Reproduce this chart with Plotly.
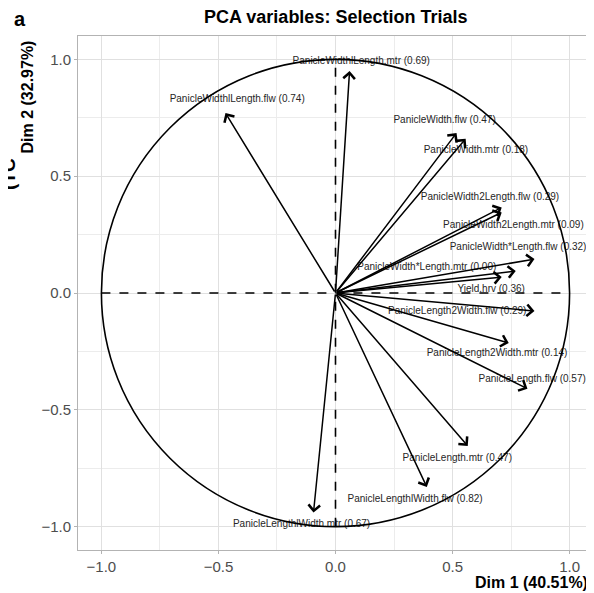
import plotly.graph_objects as go

# Variable names (with contribution in label)
labels = [
    "PanicleWidthlLength.mtr (0.69)",
    "PanicleWidthlLength.flw (0.74)",
    "PanicleWidth.flw (0.47)",
    "PanicleWidth.mtr (0.18)",
    "PanicleWidth2Length.flw (0.29)",
    "PanicleWidth2Length.mtr (0.09)",
    "PanicleWidth*Length.flw (0.32)",
    "PanicleWidth*Length.mtr (0.00)",
    "Yield.hrv (0.36)",
    "PanicleLength2Width.flw (0.29)",
    "PanicleLength2Width.mtr (0.14)",
    "PanicleLength.flw (0.57)",
    "PanicleLength.mtr (0.47)",
    "PanicleLengthlWidth.flw (0.82)",
    "PanicleLengthlWidth.mtr (0.67)",
]
# Arrow tip coordinates (Dim 1, Dim 2)
dim1 = [0.06, -0.47, 0.517, 0.556, 0.71, 0.71, 0.85, 0.77, 0.71, 0.85, 0.74, 0.82, 0.565, 0.39, -0.094]
dim2 = [0.95, 0.77, 0.685, 0.66, 0.366, 0.345, 0.145, 0.094, 0.068, -0.077, -0.214, -0.41, -0.655, -0.83, -0.94]
# Label anchor coordinates (repelled positions)
lab_x = [0.11, -0.42, 0.466, 0.60, 0.66, 0.76, 0.78, 0.39, 0.665, 0.52, 0.69, 0.84, 0.52, 0.34, -0.145]
lab_y = [0.99, 0.83, 0.74, 0.61, 0.41, 0.29, 0.195, 0.11, 0.017, -0.08, -0.26, -0.37, -0.71, -0.885, -0.99]

ref_span = [-1.0, 1.0]
ref_zero = [0.0, 0.0]
tick_vals = [-1.0, -0.5, 0.0, 0.5, 1.0]
minor_vals = [-0.75, -0.25, 0.25, 0.75]

FONT = "Liberation Sans, Arial"

fig = go.Figure()

# dashed reference lines
fig.add_trace(go.Scatter(x=ref_span, y=ref_zero, mode="lines",
                         line=dict(color="black", width=1.6, dash="dash"),
                         hoverinfo="skip", showlegend=False))
fig.add_trace(go.Scatter(x=ref_zero, y=ref_span, mode="lines",
                         line=dict(color="black", width=1.6, dash="dash"),
                         hoverinfo="skip", showlegend=False))

# labels
fig.add_trace(go.Scatter(x=lab_x, y=lab_y, mode="text", text=labels,
                         textfont=dict(family=FONT, size=10, color="#262626"),
                         hoverinfo="skip", showlegend=False))

# correlation circle
fig.add_shape(type="circle", xref="x", yref="y", x0=-1, y0=-1, x1=1, y1=1,
              line=dict(color="black", width=1.6), layer="above")

annotations = []
for xx, yy in zip(dim1, dim2):
    annotations.append(dict(x=xx, y=yy, ax=0, ay=0, xref="x", yref="y",
                            axref="x", ayref="y", text="", showarrow=True,
                            arrowhead=4, arrowsize=1.5, arrowwidth=1.5,
                            arrowcolor="black", standoff=0, startstandoff=0))

annotations += [
    dict(text="<b>PCA variables: Selection Trials</b>", xref="paper", yref="paper",
         x=0.5, y=1.0, yshift=19, xanchor="center", yanchor="middle", showarrow=False,
         font=dict(family=FONT, size=18, color="black")),
    dict(text="<b>a</b>", xref="paper", yref="paper", x=0, xshift=-58, y=1.0, yshift=17,
         xanchor="center", yanchor="middle", showarrow=False,
         font=dict(family=FONT, size=20, color="black")),
    dict(text="<b>Dim 1 (40.51%)</b>", xref="paper", yref="paper", x=1.0, xshift=-3, y=0,
         yshift=-32, xanchor="right", yanchor="middle", showarrow=False,
         font=dict(family=FONT, size=16, color="black")),
    dict(text="<b>Dim 2 (32.97%)</b>", xref="paper", yref="paper", x=0, xshift=-51,
         y=1.0, yshift=-3, xanchor="center", yanchor="top", textangle=-90, showarrow=False,
         font=dict(family=FONT, size=16, color="black")),
    dict(text="<b>(TC</b>", xref="paper", yref="paper", x=0, xshift=-70,
         y=1.0, yshift=-120, xanchor="center", yanchor="top", textangle=-90, showarrow=False,
         font=dict(family=FONT, size=19, color="black")),
]

axis_common = dict(
    range=[-1.1, 1.1], tickvals=tick_vals, tickformat=".1f",
    showgrid=True, gridcolor="#e0e0e0", gridwidth=1,
    minor=dict(tickvals=minor_vals, showgrid=True, gridcolor="#ececec", gridwidth=0.6),
    zeroline=False, showline=True, linecolor="#b3b3b3", linewidth=1, mirror=True,
    ticks="outside", ticklen=3, tickcolor="#b3b3b3",
    tickfont=dict(family=FONT, size=15, color="#4d4d4d"),
)

# The page body adds an 8px margin, so the figure is laid out 8px smaller
fig.update_layout(
    width=586, height=585,
    margin=dict(l=70, r=1, t=28, b=43),
    plot_bgcolor="white", paper_bgcolor="white",
    xaxis=axis_common, yaxis=axis_common,
    annotations=annotations, showlegend=False,
)

fig.write_html("out.html")
